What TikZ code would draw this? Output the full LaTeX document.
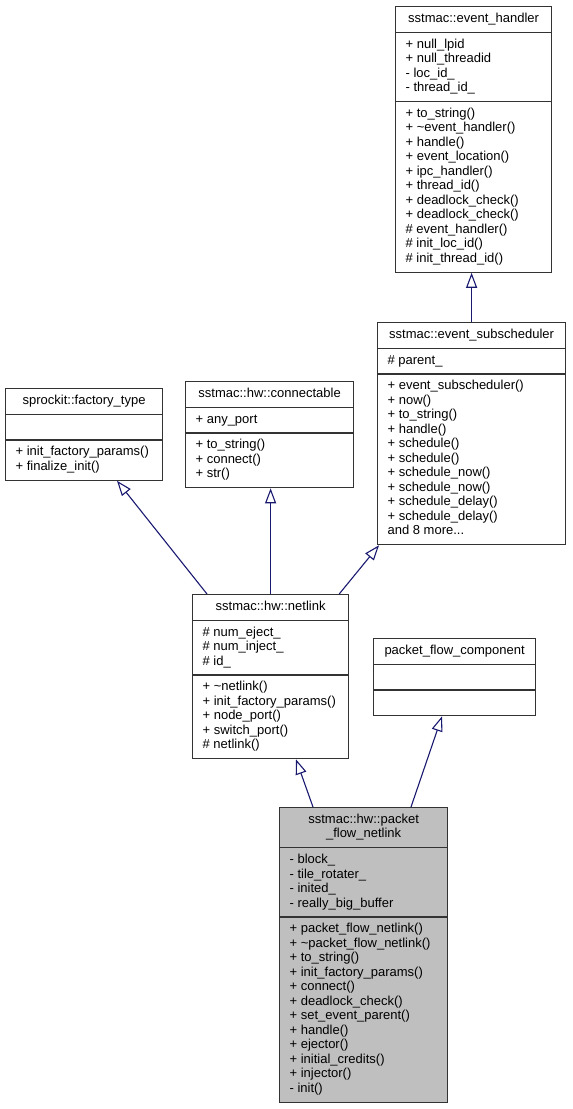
\documentclass[tikz,border=0pt]{standalone}
\usepackage{fontspec}
\setmainfont{Liberation Sans}
\usetikzlibrary{shapes.multipart,arrows.meta}
\definecolor{navy}{HTML}{191970}
\definecolor{boxgray}{HTML}{BFBFBF}
\newcommand*\members[1]{\begin{tabular}{@{}l@{}}#1\end{tabular}}
\newcommand*\ctitle[1]{\begin{tabular}{@{}c@{}}#1\end{tabular}}

\begin{document}
\begin{tikzpicture}[x=1pt,y=-1pt,
  umlclass/.style={draw=black!80,line width=1.2pt,rectangle split,rectangle split parts=3,
    rectangle split part align={center,left,left},inner xsep=10pt,inner ysep=5pt,
    anchor=north west,font=\fontsize{13}{14.5}\selectfont},
  inherit/.style={draw=navy,line width=1.1pt,-{Triangle[open,length=15pt,width=11pt]}}]
\useasboundingbox (0,0) rectangle (573,1109);
\node[umlclass,minimum width=156pt] (handler) at (395,6) {\strut sstmac::event\_handler
  \nodepart{second}\members{+ null\_lpid\\+ null\_threadid\\- loc\_id\_\\- thread\_id\_}
  \nodepart{third}\members{+ to\_string()\\+ \textasciitilde event\_handler()\\+ handle()\\+ event\_location()\\+ ipc\_handler()\\+ thread\_id()\\+ deadlock\_check()\\+ deadlock\_check()\\\# event\_handler()\\\# init\_loc\_id()\\\# init\_thread\_id()}};
\node[umlclass,minimum width=188pt] (subsched) at (377,322) {\strut sstmac::event\_subscheduler
  \nodepart{second}\strut\# parent\_
  \nodepart{third}\members{+ event\_subscheduler()\\+ now()\\+ to\_string()\\+ handle()\\+ schedule()\\+ schedule()\\+ schedule\_now()\\+ schedule\_now()\\+ schedule\_delay()\\+ schedule\_delay()\\and 8 more...}};
\node[umlclass,minimum width=157pt] (factory) at (5,388) {\strut sprockit::factory\_type
  \nodepart{second}\strut
  \nodepart{third}\members{+ init\_factory\_params()\\+ finalize\_init()}};
\node[umlclass,minimum width=168pt] (connect) at (185,381) {\strut sstmac::hw::connectable
  \nodepart{second}\strut+ any\_port
  \nodepart{third}\members{+ to\_string()\\+ connect()\\+ str()}};
\node[umlclass,minimum width=156pt] (netlink) at (192,594) {\strut sstmac::hw::netlink
  \nodepart{second}\members{\# num\_eject\_\\\# num\_inject\_\\\# id\_}
  \nodepart{third}\members{+ \textasciitilde netlink()\\+ init\_factory\_params()\\+ node\_port()\\+ switch\_port()\\\# netlink()}};
\node[umlclass,minimum width=162pt] (pfcomp) at (373,638) {\strut packet\_flow\_component
  \nodepart{second}\strut
  \nodepart{third}\strut};
\node[umlclass,minimum width=168pt,fill=boxgray] (pfnetlink) at (279,807) {\ctitle{sstmac::hw::packet\\\_flow\_netlink}
  \nodepart{second}\members{- block\_\\- tile\_rotater\_\\- inited\_\\- really\_big\_buffer}
  \nodepart{third}\members{+ packet\_flow\_netlink()\\+ \textasciitilde packet\_flow\_netlink()\\+ to\_string()\\+ init\_factory\_params()\\+ connect()\\+ deadlock\_check()\\+ set\_event\_parent()\\+ handle()\\+ ejector()\\+ initial\_credits()\\+ injector()\\- init()}};
\draw[inherit] (subsched.north) -- (subsched.north |- handler.south);
\draw[inherit] ([xshift=15pt]netlink.north west) -- ([xshift=112pt]factory.south west);
\draw[inherit] (netlink.north) -- (netlink.north |- connect.south);
\draw[inherit] ([xshift=-10pt]netlink.north east) -- ([xshift=2pt]subsched.south west);
\draw[inherit] ([xshift=34pt]pfnetlink.north west) -- ([xshift=104pt]netlink.south west);
\draw[inherit] ([xshift=132pt]pfnetlink.north west) -- ([xshift=69pt]pfcomp.south west);
\end{tikzpicture}
\end{document}
